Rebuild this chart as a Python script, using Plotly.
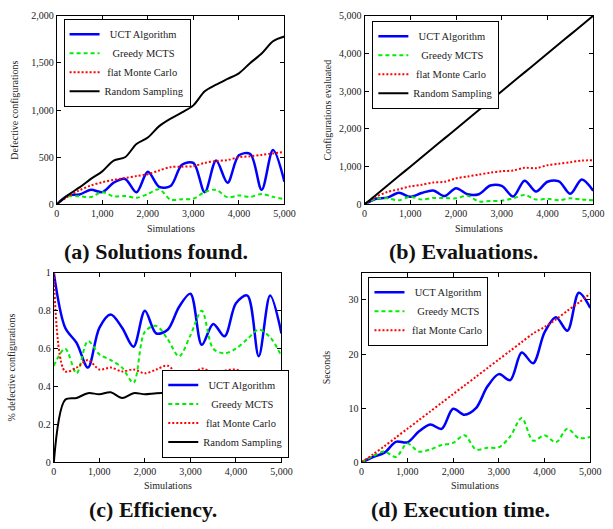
import plotly.graph_objects as go

sims = [0, 250, 500, 750, 1000, 1250, 1500, 1750, 2000, 2250, 2500,
        2750, 3000, 3250, 3500, 3750, 4000, 4250, 4500, 4750, 5000]

# (a) Solutions found
a_uct = [0, 95, 105, 155, 130, 230, 270, 128, 345, 186, 195, 420, 440, 130, 465, 230, 520, 535, 155, 576, 240]
a_greedy = [0, 85, 85, 78, 130, 85, 90, 70, 110, 160, 50, 55, 60, 130, 155, 75, 95, 80, 110, 80, 55]
a_flat = [0, 85, 150, 200, 235, 260, 280, 300, 320, 360, 395, 400, 405, 440, 460, 470, 500, 510, 525, 540, 555]
a_random = [0, 100, 180, 270, 350, 465, 500, 640, 710, 830, 910, 975, 1050, 1200, 1270, 1330, 1390, 1500, 1600, 1730, 1780]

# (b) Evaluations
b_uct = [0, 150, 180, 310, 200, 300, 370, 220, 430, 270, 270, 500, 490, 210, 630, 340, 600, 610, 280, 660, 360]
b_greedy = [0, 150, 160, 110, 200, 130, 170, 170, 160, 230, 80, 90, 100, 160, 250, 130, 150, 110, 160, 130, 110]
b_flat = [0, 200, 330, 400, 480, 520, 580, 600, 690, 740, 790, 840, 880, 900, 970, 960, 1040, 1080, 1120, 1160, 1170]
b_random = [0, 250, 500, 750, 1000, 1250, 1500, 1750, 2000, 2250, 2500, 2750, 3000, 3250, 3500, 3750, 4000, 4250, 4500, 4750, 5000]

# (c) Efficiency
c_uct = [1.0, 0.71, 0.63, 0.50, 0.71, 0.78, 0.71, 0.61, 0.80, 0.68, 0.70, 0.82, 0.89, 0.62, 0.73, 0.665, 0.84, 0.88, 0.56, 0.88, 0.68]
c_greedy = [0.51, 0.60, 0.47, 0.64, 0.57, 0.54, 0.50, 0.42, 0.69, 0.72, 0.65, 0.56, 0.67, 0.80, 0.60, 0.575, 0.60, 0.65, 0.70, 0.66, 0.56]
c_flat = [1.0, 0.48, 0.50, 0.54, 0.49, 0.50, 0.48, 0.49, 0.47, 0.49, 0.51, 0.46, 0.46, 0.495, 0.475, 0.485, 0.49, 0.47, 0.465, 0.465, 0.475]
c_random = [0.0, 0.33, 0.34, 0.365, 0.36, 0.37, 0.34, 0.365, 0.36, 0.365, 0.365, 0.36, 0.36, 0.37, 0.365, 0.355, 0.35, 0.355, 0.36, 0.365, 0.36]

# (d) Execution time
d_uct = [0, 1.0, 1.8, 3.8, 3.7, 5.7, 7.0, 6.2, 9.9, 8.8, 10.0, 14.0, 16.3, 15.2, 20.3, 18.3, 24.0, 26.8, 24.3, 31.3, 28.5]
d_greedy = [0, 1.2, 2.0, 1.0, 3.5, 2.0, 2.4, 3.2, 3.6, 5.0, 2.4, 2.7, 2.8, 4.8, 8.2, 4.0, 5.0, 3.7, 6.2, 4.5, 4.7]
d_flat = [0, 1.5, 3.0, 4.6, 6.2, 7.8, 9.4, 11.0, 12.6, 14.2, 15.8, 17.4, 19.0, 20.6, 22.2, 23.8, 25.0, 26.4, 28.0, 29.5, 31.2]

names = ["UCT Algorithm", "Greedy MCTS", "flat Monte Carlo", "Random Sampling"]
captions = ["(a) Solutions found.", "(b) Evaluations.", "(c) Efficiency.", "(d) Execution time."]
ytitles = ["Defective configurations", "Configurations evaluated",
           "% defective configurations", "Seconds"]
xtitle = "Simulations"

FONT = "Liberation Serif, DejaVu Serif, serif"
W, H = 613, 529

styles = [
    dict(color="#0000ff", width=2.5, dash="solid"),
    dict(color="#00ee00", width=2, dash="4px,3px"),
    dict(color="#ff0000", width=2, dash="2px,2px"),
    dict(color="#000000", width=2, dash="solid"),
]
pad = {0: 2, 1: 3, 2: 1, 3: 0}

# panel frames in pixels: left, right, top, bottom
frames = [(55, 288, 10, 203), (370, 604, 10, 203), (52, 285, 273, 467), (367, 601, 273, 467)]
# legend anchor (x, y, yanchor)
legpos = [(62, 13, "top"), (378, 15, "top"), (163, 462, "bottom"), (374, 277, "top")]
ystand = [10, 5, 20, 16]
xtitle_xy = [(172, 228), (487, 228), (169, 491), (483, 491)]
panels = [
    [a_uct, a_greedy, a_flat, a_random],
    [b_uct, b_greedy, b_flat, b_random],
    [c_uct, c_greedy, c_flat, c_random],
    [d_uct, d_greedy, d_flat],
]
yranges = [(0, 2000), (0, 5000), (0, 1), (0, 35)]
ydticks = [500, 1000, 0.2, 10]
capxy = [(157, 251), (471, 251), (153, 515), (468, 515)]

fig = go.Figure()
for p, series in enumerate(panels):
    ax = "" if p == 0 else str(p + 1)
    leg = "legend" if p == 0 else f"legend{p + 1}"
    for i, ys in enumerate(series):
        fig.add_trace(go.Scatter(
            x=sims, y=ys, mode="lines", line_shape="spline",
            line=dict(**styles[i], smoothing=0.9),
            name="\u00a0" * pad[i] + names[i],
            xaxis="x" + ax, yaxis="y" + ax, legend=leg,
        ))
    l, r, t, b = frames[p]
    axis_common = dict(
        showline=True, linecolor="black", linewidth=1, mirror="ticks",
        ticks="inside", ticklen=4, tickcolor="black", showgrid=False,
        zeroline=False, tickfont=dict(family=FONT, size=10, color="#222"),
        title_font=dict(family=FONT, size=10, color="#222"),
    )
    lx, ly, lya = legpos[p]
    fig.update_layout(**{
        "xaxis" + ax: dict(domain=[l / W, r / W], anchor="y" + ax, range=[0, 5000],
                           tickvals=[0, 1000, 2000, 3000, 4000, 5000], tickformat=",",
                           **axis_common),
        "yaxis" + ax: dict(domain=[1 - b / H, 1 - t / H], anchor="x" + ax,
                           range=list(yranges[p]), dtick=ydticks[p], tickformat=",~g",
                           title=dict(text=ytitles[p], standoff=ystand[p]), **axis_common),
        leg: dict(x=lx / W, y=1 - ly / H, xanchor="left", yanchor=lya,
                  bordercolor="black", borderwidth=1, bgcolor="white",
                  font=dict(family=FONT, size=10.5, color="#222"),
                  tracegroupgap=0, itemwidth=30),
    })
    fig.add_annotation(x=xtitle_xy[p][0] / W, y=1 - xtitle_xy[p][1] / H, xref="paper", yref="paper",
                       text=xtitle, showarrow=False,
                       font=dict(family=FONT, size=10, color="#222"),
                       xanchor="center", yanchor="middle")
    fig.add_annotation(x=capxy[p][0] / W, y=1 - capxy[p][1] / H, xref="paper", yref="paper",
                       text="<b>" + captions[p] + "</b>", showarrow=False,
                       font=dict(family=FONT, size=22, color="#111"),
                       xanchor="center", yanchor="middle")

fig.update_layout(width=W, height=H, margin=dict(l=0, r=0, t=0, b=0),
                  paper_bgcolor="white", plot_bgcolor="white", showlegend=True)
fig.write_html("out.html")
